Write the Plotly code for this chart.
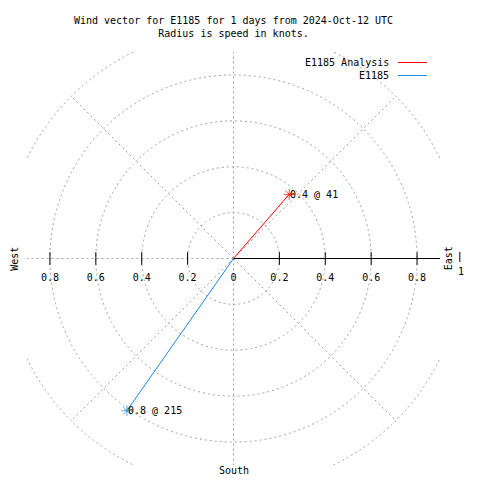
import numpy as np
import plotly.graph_objects as go

# ---- data ----
series_names = ["E1185 Analysis", "E1185"]
speeds = [0.37, 0.81]          # knots (labels show 1 decimal)
directions = [41, 215]         # degrees, compass (clockwise from north)
series_colors = ["#ff0000", "#1e88e5"]

tick_vals = [-0.8, -0.6, -0.4, -0.2, 0, 0.2, 0.4, 0.6, 0.8]
tick_text = ["0.8", "0.6", "0.4", "0.2", "0", "0.2", "0.4", "0.6", "0.8"]
ring_radii = [0.2, 0.4, 0.6, 0.8, 1.0]
spoke_angles = [0, 45, 90, 135, 180, 225, 270, 315]
axis_max = 0.9

title_text = "Wind vector for E1185 for 1 days from 2024-Oct-12 UTC<br>Radius is speed in knots."

FONT = "DejaVu Sans Mono"
GRID = "#a0a0a0"
DASH = "2px,3px"

fig = go.Figure()

# vectors
for name, s, d, c in zip(series_names, speeds, directions, series_colors):
    rad = np.deg2rad(d)
    x, y = s * np.sin(rad), s * np.cos(rad)
    fig.add_trace(go.Scatter(
        x=[0, x], y=[0, y], mode="lines+markers", name=name,
        line=dict(color=c, width=1),
        marker=dict(size=[0, 9], symbol="asterisk-open", color=c, line=dict(color=c, width=1)),
        showlegend=False, hoverinfo="skip",
    ))
    fig.add_annotation(x=x, y=y, xref="x", yref="y", text=f"{s:.1f} @ {d}",
                       showarrow=False, xanchor="left", yanchor="middle", xshift=-1,
                       font=dict(family=FONT, size=10, color="black"))

# tick marks on the radius axis
nz = [v for v in tick_vals if v != 0]
fig.add_trace(go.Scatter(
    x=nz, y=[0] * len(nz), mode="markers",
    marker=dict(symbol="line-ns-open", size=9, color="black", line=dict(color="black", width=1)),
    showlegend=False, hoverinfo="skip",
))

shapes = []
for r in ring_radii:
    shapes.append(dict(type="circle", xref="x", yref="y", x0=-r, y0=-r, x1=r, y1=r,
                       line=dict(color=GRID, width=1, dash=DASH), layer="below"))
for a in spoke_angles:
    ra = np.deg2rad(a)
    R = max(ring_radii)
    shapes.append(dict(type="line", xref="x", yref="y", x0=0, y0=0,
                       x1=R * np.sin(ra), y1=R * np.cos(ra),
                       line=dict(color=GRID, width=1, dash=DASH), layer="below"))
shapes.append(dict(type="line", xref="x", yref="y", x0=0, y0=0, x1=axis_max, y1=0,
                   line=dict(color="black", width=1), layer="below"))

# legend (text right-aligned, sample line on the right)
leg_y = [0.9746, 0.9431]
for name, c, ly in zip(series_names, series_colors, leg_y):
    fig.add_annotation(x=0.881, y=ly, xref="paper", yref="paper", text=name,
                       showarrow=False, xanchor="right", yanchor="middle",
                       font=dict(family=FONT, size=10, color="black"))
    shapes.append(dict(type="line", xref="paper", yref="paper", x0=0.898, x1=0.9685,
                       y0=ly, y1=ly, line=dict(color=c, width=1)))

# direction labels
fig.add_annotation(x=-0.031, y=0.5, xref="paper", yref="paper", text="West", textangle=-90,
                   showarrow=False, xanchor="center", yanchor="middle",
                   font=dict(family=FONT, size=10, color="black"))
fig.add_annotation(x=1.02, y=0.501, xref="paper", yref="paper", text="East", textangle=-90,
                   showarrow=False, xanchor="center", yanchor="middle",
                   font=dict(family=FONT, size=10, color="black"))
fig.add_annotation(x=1.05, y=0.468, xref="paper", yref="paper", text="1",
                   showarrow=False, xanchor="center", yanchor="middle",
                   font=dict(family=FONT, size=10, color="black"))
shapes.append(dict(type="line", xref="paper", yref="paper", x0=1.048, x1=1.048,
                   y0=0.4915, y1=0.516, line=dict(color="black", width=1)))
fig.add_annotation(x=0.5, y=-0.0145, xref="paper", yref="paper", text="South",
                   showarrow=False, xanchor="center", yanchor="middle",
                   font=dict(family=FONT, size=10, color="black"))

# the page body adds an 8px offset, so margins are reduced by 8px on top/left
fig.update_layout(
    width=480, height=480,
    margin=dict(l=19, r=48, t=44, b=23, autoexpand=False),
    paper_bgcolor="white", plot_bgcolor="white",
    title=dict(text=title_text, x=0.5, xref="paper", xanchor="center",
               y=0.967, yref="container", yanchor="top",
               font=dict(family=FONT, size=10, color="black")),
    shapes=shapes,
    xaxis=dict(range=[-axis_max, axis_max], tickvals=tick_vals, ticktext=tick_text,
               ticks="", showline=False, showgrid=False, zeroline=False,
               anchor="free", position=0.5, ticklabelstandoff=11,
               tickfont=dict(family=FONT, size=10, color="black"), fixedrange=True),
    yaxis=dict(range=[-axis_max, axis_max], visible=False, showgrid=False,
               zeroline=False, fixedrange=True),
    showlegend=False,
)

fig.write_html("out.html")
